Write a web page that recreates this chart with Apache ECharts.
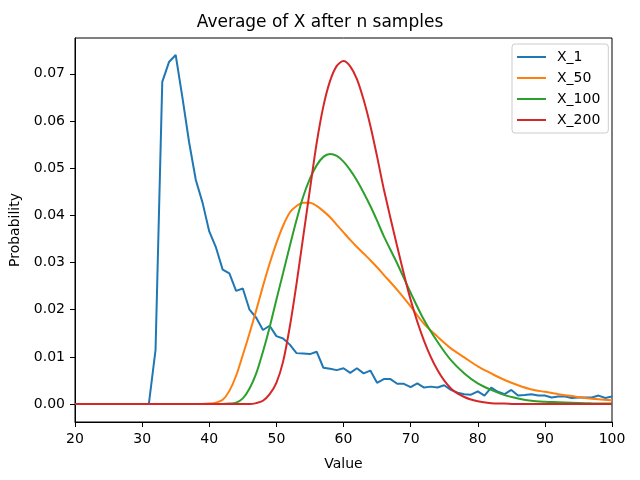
<!DOCTYPE html>
<html>
<head>
    <meta charset="utf-8">
    <title>Average of X after n samples</title>
    <script src="https://cdn.jsdelivr.net/npm/echarts@6/dist/echarts.min.js"></script>
</head>
<body style="margin:0">
    <div id="main" style="width: 640px;height:480px;"></div>
    <script type="text/javascript">
        // empirical distribution of one sample, x = 20..100
        var x1 = [];
        for (var i = 20; i <= 100; i++) x1.push(i);
        var y1 = [0, 0, 0, 0, 0, 0, 0, 0, 0, 0, 0, 0,
            0.0115, 0.0683, 0.0725, 0.0740, 0.0650, 0.0555, 0.0475, 0.0427, 0.0366,
            0.0332, 0.0285, 0.0277, 0.0240, 0.0245, 0.0200, 0.0183, 0.0157, 0.0166, 0.0144,
            0.0139, 0.0126, 0.0108, 0.0107, 0.0106, 0.0111, 0.0077, 0.0075, 0.0072, 0.0076,
            0.0066, 0.0076, 0.0065, 0.0071, 0.0045, 0.0053, 0.0053, 0.0043, 0.0043, 0.0036,
            0.0044, 0.0035, 0.0037, 0.0035, 0.0040, 0.0030, 0.0024, 0.0021, 0.0020, 0.0027,
            0.0018, 0.0035, 0.0026, 0.0021, 0.0030, 0.0018, 0.0019, 0.0021, 0.0018, 0.0018,
            0.0014, 0.0016, 0.0016, 0.0013, 0.0014, 0.0014, 0.0014, 0.0018, 0.0013, 0.0016];

        // smooth curves: read every 1 unit up to 66, then every 2 units
        var xs = [];
        for (var j = 20; j <= 66; j++) xs.push(j);
        for (var k = 68; k <= 100; k += 2) xs.push(k);

        var y50 = [0, 0, 0, 0, 0, 0, 0, 0, 0, 0, 0, 0, 0, 0, 0, 0, 0, 0, 0, 0,
            0.0001, 0.0003, 0.0009, 0.0028, 0.0060, 0.0104, 0.0150, 0.0199, 0.0250, 0.0298,
            0.0341, 0.0378, 0.0406, 0.0420, 0.0427, 0.0427, 0.0420, 0.0409, 0.0396, 0.0380,
            0.0364, 0.0348, 0.0333, 0.0319, 0.0305, 0.0290, 0.0274,
            0.0242, 0.0207, 0.0170, 0.0143, 0.0118, 0.0099, 0.0080, 0.0065, 0.0051,
            0.0040, 0.0031, 0.0026, 0.0021, 0.0017, 0.0013, 0.0010, 0.0008];
        var y100 = [0, 0, 0, 0, 0, 0, 0, 0, 0, 0, 0, 0, 0, 0, 0, 0, 0, 0, 0, 0, 0, 0, 0,
            0.0001, 0.0003, 0.0012, 0.0033, 0.0065, 0.0111, 0.0163, 0.0221, 0.0278, 0.0335,
            0.0390, 0.0440, 0.0478, 0.0506, 0.0524, 0.0530, 0.0526, 0.0514, 0.0496, 0.0474,
            0.0448, 0.0420, 0.0389, 0.0356,
            0.0298, 0.0236, 0.0178, 0.0132, 0.0093, 0.0065, 0.0044, 0.0030, 0.0019,
            0.0012, 0.0007, 0.0005, 0.0004, 0.0003, 0.0002, 0.0001, 0.0001];
        var y200 = [0, 0, 0, 0, 0, 0, 0, 0, 0, 0, 0, 0, 0, 0, 0, 0, 0, 0, 0, 0, 0, 0, 0, 0, 0, 0, 0,
            0.0002, 0.0007, 0.0021, 0.0045, 0.0090, 0.0164, 0.0255, 0.0355, 0.0455, 0.0553,
            0.0631, 0.0685, 0.0717, 0.0727, 0.0716, 0.0689, 0.0645, 0.0590, 0.0525, 0.0456,
            0.0334, 0.0221, 0.0134, 0.0072, 0.0033, 0.0015, 0.0006, 0.0002, 0.0001,
            0, 0, 0, 0, 0, 0, 0, 0];

        var yTicks = [0, 0.01, 0.02, 0.03, 0.04, 0.05, 0.06, 0.07];

        function pairs(xv, yv) {
            return xv.map(function (x, n) { return [x, yv[n]]; });
        }

        var myChart = echarts.init(document.getElementById('main'));
        var font = 'DejaVu Sans';

        function lineSeries(name, data, color, smooth) {
            return {
                name: name,
                type: 'line',
                symbol: 'none',
                smooth: smooth,
                lineStyle: { color: color, width: 2 },
                itemStyle: { color: color },
                data: data
            };
        }

        var option = {
            animation: false,
            backgroundColor: '#fff',
            title: {
                text: 'Average of X after n samples',
                left: 'center',
                top: 14,
                padding: 0,
                textStyle: { fontFamily: font, fontSize: 17, fontWeight: 'normal', color: '#000' }
            },
            legend: {
                orient: 'vertical',
                left: 512,
                top: 44,
                padding: [6, 8, 6, 5],
                icon: 'rect',
                itemWidth: 29,
                itemHeight: 2,
                itemGap: 7,
                borderColor: '#ccc',
                borderWidth: 1,
                borderRadius: 3,
                backgroundColor: 'rgba(255,255,255,0.8)',
                textStyle: { fontFamily: font, fontSize: 14, lineHeight: 14, color: '#000', padding: [0, 0, 0, 6] },
                data: ['X_1', 'X_50', 'X_100', 'X_200']
            },
            grid: {
                left: 75, right: 28, top: 38, bottom: 58,
                show: true,
                borderColor: '#000',
                borderWidth: 1
            },
            xAxis: {
                type: 'value',
                min: 20,
                max: 100,
                interval: 10,
                name: 'Value',
                nameLocation: 'middle',
                nameGap: 35,
                nameTextStyle: { fontFamily: font, fontSize: 14, color: '#000' },
                axisLine: { show: true, onZero: false, lineStyle: { color: '#000' } },
                axisTick: { length: 5, lineStyle: { color: '#000' } },
                axisLabel: { fontFamily: font, fontSize: 14, color: '#000', margin: 10 },
                splitLine: { show: false }
            },
            yAxis: {
                type: 'value',
                min: -0.0038,
                max: 0.0776,
                name: 'Probability',
                nameLocation: 'middle',
                nameGap: 53,
                nameTextStyle: { fontFamily: font, fontSize: 14, color: '#000' },
                axisLine: { show: true, lineStyle: { color: '#000' } },
                axisTick: { show: true, length: 5, customValues: yTicks, lineStyle: { color: '#000' } },
                axisLabel: {
                    fontFamily: font, fontSize: 14, color: '#000', margin: 10,
                    customValues: yTicks,
                    formatter: function (v) { return v.toFixed(2); }
                },
                splitLine: { show: false }
            },
            series: [
                lineSeries('X_1', pairs(x1, y1), '#1f77b4', false),
                lineSeries('X_50', pairs(xs, y50), '#ff7f0e', 0.3),
                lineSeries('X_100', pairs(xs, y100), '#2ca02c', 0.3),
                lineSeries('X_200', pairs(xs, y200), '#d62728', 0.3)
            ]
        };

        myChart.setOption(option);
    </script>
</body>
</html>
